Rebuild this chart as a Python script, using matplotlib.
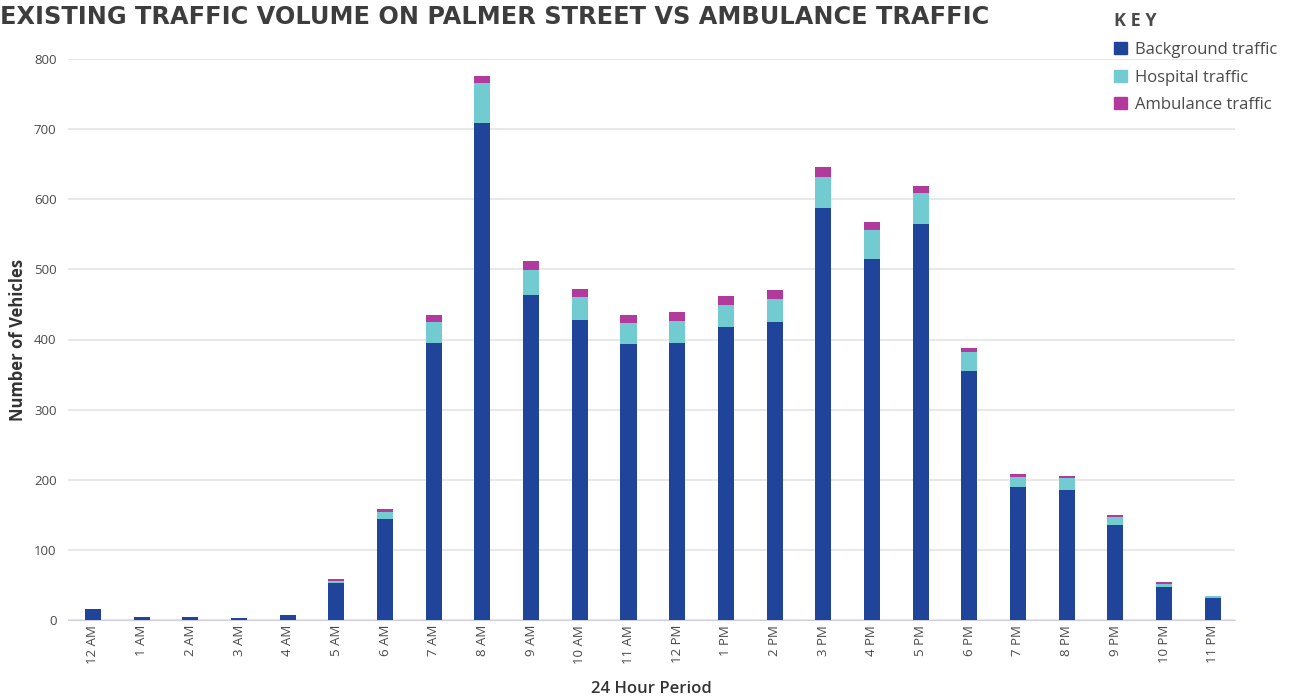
import numpy as np
import matplotlib.pyplot as plt
import matplotlib.patches as mpatches

# Datos
horas = ["12 AM", "1 AM", "2 AM", "3 AM", "4 AM", "5 AM", "6 AM", "7 AM",
         "8 AM", "9 AM", "10 AM", "11 AM", "12 PM", "1 PM", "2 PM", "3 PM",
         "4 PM", "5 PM", "6 PM", "7 PM", "8 PM", "9 PM", "10 PM", "11 PM"]
background = [16, 4, 4, 3, 7, 53, 144, 395, 709, 464, 428, 394, 395, 418,
              425, 588, 515, 565, 355, 190, 186, 136, 48, 32]
hospital = [0, 0, 0, 0, 0, 3, 10, 30, 56, 35, 33, 30, 32, 31,
            33, 44, 41, 44, 27, 14, 16, 11, 3, 2]
ambulance = [0, 0, 0, 0, 0, 2, 4, 10, 11, 13, 11, 11, 12, 13,
             13, 14, 12, 10, 6, 5, 3, 3, 3, 1]

col_bg = "#20449a"
col_hosp = "#72cbd0"
col_amb = "#b23a9c"
gris = "#4a4a4a"

plt.rcParams["font.family"] = ["Open Sans", "DejaVu Sans"]

fig = plt.figure(figsize=(13.01, 7.0), dpi=100)
ax = fig.add_axes([0.052, 0.114, 0.897, 0.802])

x = np.arange(len(horas))
bg = np.array(background)
ho = np.array(hospital)
am = np.array(ambulance)
ancho = 0.33
ax.bar(x, bg, ancho, color=col_bg, zorder=3)
ax.bar(x, ho, ancho, bottom=bg, color=col_hosp, zorder=3)
ax.bar(x, am, ancho, bottom=bg + ho, color=col_amb, zorder=3)

ax.set_xlim(-0.52, len(horas) - 0.55)
ax.set_ylim(0, 800)
ax.set_yticks(np.arange(0, 801, 100))
ax.grid(axis="y", color="#e4e4e4", linewidth=1.2, zorder=0)
for s in ["top", "right", "left"]:
    ax.spines[s].set_visible(False)
ax.spines["bottom"].set_color("#cfcfe0")
ax.tick_params(axis="both", length=0, labelsize=9.5, labelcolor=gris)
ax.tick_params(axis="y", pad=8)
ax.set_xticks(x)
ax.set_xticklabels(horas, rotation=90)

ax.set_ylabel("Number of Vehicles", fontsize=12, fontweight="bold",
              color="#333333", labelpad=5)
ax.set_xlabel("24 Hour Period", fontsize=12, fontweight="semibold",
              color="#333333", labelpad=12)

fig.text(0.0, 0.975, "EXISTING TRAFFIC VOLUME ON PALMER STREET VS AMBULANCE TRAFFIC",
         fontsize=17.3, fontweight="bold", color="#3d3d3d", va="center",
         family=["DejaVu Sans"])

handles = [mpatches.Patch(color=col_bg, label="Background traffic"),
           mpatches.Patch(color=col_hosp, label="Hospital traffic"),
           mpatches.Patch(color=col_amb, label="Ambulance traffic")]
leg = fig.legend(handles=handles, loc="upper left", bbox_to_anchor=(0.845, 1.004),
                 frameon=False, fontsize=12, handlelength=0.75, handleheight=0.75,
                 handletextpad=0.5, labelspacing=0.7, title="K E Y",
                 title_fontproperties={"size": 13, "weight": "bold"},
                 alignment="left", labelcolor=gris)
leg.get_title().set_color("#4a4a4a")

fig.savefig("out.png", dpi=100)
